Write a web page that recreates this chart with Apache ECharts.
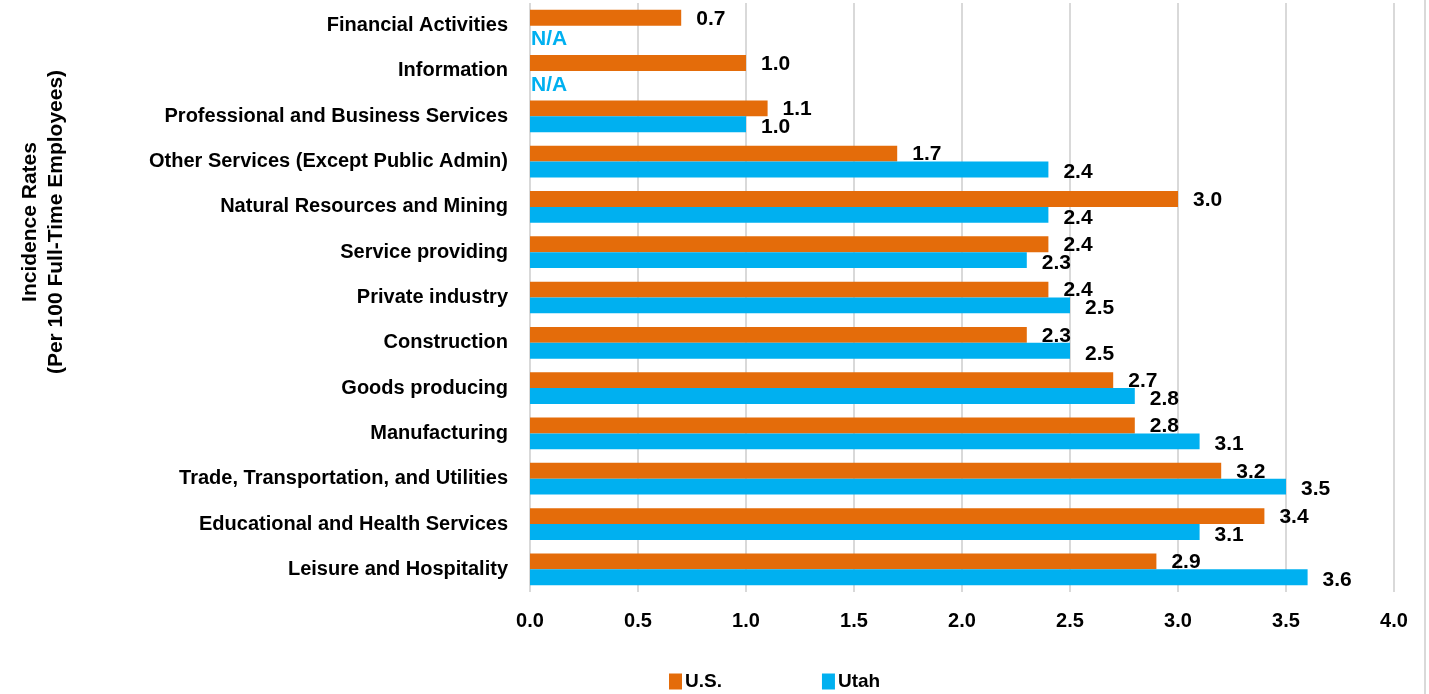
<!DOCTYPE html>
<html>
	<head>
		<meta charset="UTF-8">
		<title></title>
		<script type="text/javascript" src="https://cdn.jsdelivr.net/npm/echarts@6/dist/echarts.min.js"></script>
		<style>
			html, body { margin: 0; padding: 0; background: #fff; }
		</style>
	</head>
	<body>
		<div id="main" style="width: 1429px;height: 694px;"></div>
		<script type="text/javascript">
			// categories listed bottom to top (category axis starts at the bottom)
			var categories = [
				'Leisure and Hospitality',
				'Educational and Health Services',
				'Trade, Transportation, and Utilities',
				'Manufacturing',
				'Goods producing',
				'Construction',
				'Private industry',
				'Service providing',
				'Natural Resources and Mining',
				'Other Services (Except Public Admin)',
				'Professional and Business Services',
				'Information',
				'Financial Activities'
			];
			var usValues = [2.9, 3.4, 3.2, 2.8, 2.7, 2.3, 2.4, 2.4, 3.0, 1.7, 1.1, 1.0, 0.7];
			// null = not available (N/A)
			var utahValues = [3.6, 3.1, 3.5, 3.1, 2.8, 2.5, 2.5, 2.3, 2.4, 2.4, 1.0, null, null];
			var xTicks = { min: 0, max: 4, interval: 0.5 };

			var font = '"Liberation Sans", Arial, sans-serif';
			var orange = '#E46C0A';
			var blue = '#00B0F0';

			var utahData = utahValues.map(function (v) {
				if (v === null) {
					return {
						value: 0,
						label: { formatter: 'N/A', color: blue, distance: 1, offset: [0, 6] }
					};
				}
				return v;
			});

			var myChart = echarts.init(document.getElementById("main"));
			myChart.setOption({
				animation: false,
				textStyle: { fontFamily: font },
				grid: {
					left: 530,
					right: 35,
					top: 3,
					bottom: 102
				},
				legend: {
					left: 664,
					bottom: -2,
					itemGap: 100,
					icon: 'rect',
					itemWidth: 13,
					itemHeight: 16,
					textStyle: { fontFamily: font, fontWeight: 'bold', fontSize: 19, color: '#000', padding: [0, 0, 0, -2] },
					data: ['U.S.', 'Utah']
				},
				xAxis: {
					type: 'value',
					min: xTicks.min,
					max: xTicks.max,
					interval: xTicks.interval,
					axisLine: { show: false },
					axisTick: { show: false },
					splitLine: { show: true, lineStyle: { color: '#D9D9D9', width: 2 } },
					axisLabel: {
						margin: 19,
						fontFamily: font,
						fontWeight: 'bold',
						fontSize: 20,
						color: '#000',
						formatter: function (v) { return v.toFixed(1); }
					}
				},
				yAxis: {
					type: 'category',
					data: categories,
					axisLine: { show: false },
					axisTick: { show: false },
					axisLabel: {
						margin: 22,
						fontFamily: font,
						fontWeight: 'bold',
						fontSize: 20,
						color: '#000'
					}
				},
				graphic: [
					{
						type: 'text',
						x: 43,
						y: 222,
						rotation: Math.PI / 2,
						style: {
							text: 'Incidence Rates\n(Per 100 Full-Time Employees)',
							font: 'bold 21px ' + font,
							fill: '#000',
							align: 'center',
							verticalAlign: 'middle',
							lineHeight: 26
						}
					},
					{
						type: 'line',
						shape: { x1: 1425, y1: 0, x2: 1425, y2: 694 },
						style: { stroke: '#D9D9D9', lineWidth: 2 }
					}
				],
				series: [
					{
						name: 'U.S.',
						type: 'bar',
						data: usValues,
						barGap: '0%',
						barCategoryGap: '30%',
						itemStyle: { color: orange },
						label: {
							show: true,
							position: 'right',
							distance: 15,
							offset: [0, 1],
							fontFamily: font,
							fontWeight: 'bold',
							fontSize: 21,
							color: '#000',
							formatter: function (p) { return p.value.toFixed(1); }
						}
					},
					{
						name: 'Utah',
						type: 'bar',
						data: utahData,
						itemStyle: { color: blue },
						label: {
							show: true,
							position: 'right',
							distance: 15,
							offset: [0, 3],
							fontFamily: font,
							fontWeight: 'bold',
							fontSize: 21,
							color: '#000',
							formatter: function (p) { return Number(p.value).toFixed(1); }
						}
					}
				]
			});
		</script>
	</body>
</html>
